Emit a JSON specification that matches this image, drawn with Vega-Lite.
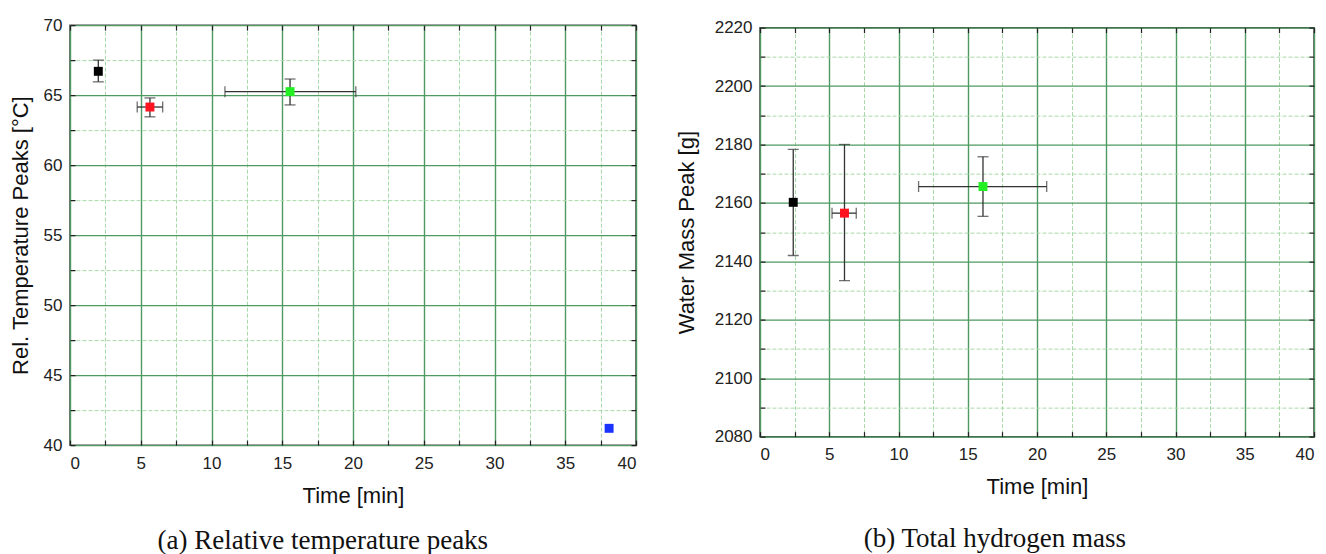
{
  "$schema": "https://vega.github.io/schema/vega-lite/v6.json",
  "background": "white",
  "padding": {"left": 8, "top": 12, "right": 5, "bottom": 0},
  "config": {
    "view": {"stroke": "#444", "strokeWidth": 1.5},
    "font": "Liberation Sans",
    "axis": {
      "domain": false,
      "labelFont": "Liberation Sans", "labelFontSize": 17, "labelColor": "#222",
      "titleFont": "Liberation Sans", "titleFontSize": 22, "titleFontWeight": "normal", "titleColor": "#111",
      "tickColor": "#222", "tickSize": -5, "tickWidth": 1.2, "labelPadding": 13
    },
    "title": {"font": "Liberation Serif", "fontSize": 27, "fontWeight": "normal", "color": "#111", "orient": "bottom", "frame": "bounds"}
  },
  "datasets": {
    "temp": [
      {"series": "run 1", "t": 2.0, "v": 66.7, "vlo": 65.95, "vhi": 67.5, "tlo": null, "thi": null},
      {"series": "run 2", "t": 5.65, "v": 64.15, "vlo": 63.45, "vhi": 64.8, "tlo": 4.75, "thi": 6.55},
      {"series": "run 3", "t": 15.55, "v": 65.25, "vlo": 64.3, "vhi": 66.15, "tlo": 10.95, "thi": 20.2},
      {"series": "run 4", "t": 38.1, "v": 41.2, "vlo": null, "vhi": null, "tlo": null, "thi": null}
    ],
    "mass": [
      {"series": "run 1", "t": 2.4, "v": 2160.2, "vlo": 2142.0, "vhi": 2178.3, "tlo": null, "thi": null},
      {"series": "run 2", "t": 6.1, "v": 2156.5, "vlo": 2133.4, "vhi": 2180.0, "tlo": 5.2, "thi": 6.95},
      {"series": "run 3", "t": 16.1, "v": 2165.6, "vlo": 2155.4, "vhi": 2175.8, "tlo": 11.45, "thi": 20.7}
    ]
  },
  "spacing": 36,
  "center": true,
  "hconcat": [
    {
      "width": 566, "height": 420,
      "title": {"text": "(a)  Relative temperature peaks", "offset": 22},
      "data": {"name": "temp"},
      "layer": [
        {
          "transform": [{"filter": "datum.vlo != null"}],
          "mark": {"type": "errorbar", "ticks": {"size": 11}, "color": "#333", "thickness": 1.3},
          "encoding": {
            "x": {"field": "t", "type": "quantitative", "scale": {"domain": [0, 40], "nice": false},
              "axis": {"orient": "bottom", "title": "Time [min]", "values": [0,2.5,5,7.5,10,12.5,15,17.5,20,22.5,25,27.5,30,32.5,35,37.5,40],
                "labelExpr": "datum.value % 5 == 0 ? datum.label : ''", "grid": true, "labelPadding": 15,
                "gridColor": {"condition": {"test": "datum.value % 5 != 0", "value": "#a8d8a8"}, "value": "#4f9a60"},
                "gridDash": {"condition": {"test": "datum.value % 5 != 0", "value": [4, 2]}, "value": []},
                "gridWidth": {"condition": {"test": "datum.value % 5 != 0", "value": 1}, "value": 1.4},
                "titlePadding": 14}},
            "y": {"field": "vlo", "type": "quantitative", "scale": {"domain": [40, 70], "nice": false},
              "axis": {"orient": "left", "title": "Rel. Temperature Peaks [°C]", "values": [40,42.5,45,47.5,50,52.5,55,57.5,60,62.5,65,67.5,70],
                "labelExpr": "datum.value % 5 == 0 ? datum.label : ''", "grid": true,
                "gridColor": {"condition": {"test": "datum.value % 5 != 0", "value": "#a8d8a8"}, "value": "#4f9a60"},
                "gridDash": {"condition": {"test": "datum.value % 5 != 0", "value": [4, 2]}, "value": []},
                "gridWidth": {"condition": {"test": "datum.value % 5 != 0", "value": 1}, "value": 1.4},
                "titlePadding": 11}},
            "y2": {"field": "vhi"}
          }
        },
        {
          "transform": [{"filter": "datum.tlo != null"}],
          "mark": {"type": "errorbar", "ticks": {"size": 11}, "color": "#333", "thickness": 1.3},
          "encoding": {
            "x": {"field": "tlo", "type": "quantitative",
              "axis": {"orient": "top", "title": null, "labels": false, "grid": false, "values": [0,2.5,5,7.5,10,12.5,15,17.5,20,22.5,25,27.5,30,32.5,35,37.5,40]}},
            "x2": {"field": "thi"},
            "y": {"field": "v", "type": "quantitative",
              "axis": {"orient": "right", "title": null, "labels": false, "grid": false, "values": [40,42.5,45,47.5,50,52.5,55,57.5,60,62.5,65,67.5,70]}}
          }
        },
        {
          "mark": {"type": "square", "size": 80, "opacity": 1},
          "encoding": {
            "x": {"field": "t", "type": "quantitative", "axis": null},
            "y": {"field": "v", "type": "quantitative", "axis": null},
            "color": {"field": "series", "type": "nominal", "legend": null,
              "scale": {"domain": ["run 1", "run 2", "run 3", "run 4"], "range": ["#000000", "#ff1420", "#22f022", "#1a33ff"]}}
          }
        }
      ],
      "resolve": {"axis": {"x": "independent", "y": "independent"}}
    },
    {
      "width": 554, "height": 409,
      "title": {"text": "(b)  Total hydrogen mass", "offset": 28},
      "data": {"name": "mass"},
      "layer": [
        {
          "transform": [{"filter": "datum.vlo != null"}],
          "mark": {"type": "errorbar", "ticks": {"size": 11}, "color": "#333", "thickness": 1.3},
          "encoding": {
            "x": {"field": "t", "type": "quantitative", "scale": {"domain": [0, 40], "nice": false},
              "axis": {"orient": "bottom", "title": "Time [min]", "values": [0,2.5,5,7.5,10,12.5,15,17.5,20,22.5,25,27.5,30,32.5,35,37.5,40],
                "labelExpr": "datum.value % 5 == 0 ? datum.label : ''", "grid": true, "labelPadding": 15,
                "gridColor": {"condition": {"test": "datum.value % 5 != 0", "value": "#a8d8a8"}, "value": "#4f9a60"},
                "gridDash": {"condition": {"test": "datum.value % 5 != 0", "value": [4, 2]}, "value": []},
                "gridWidth": {"condition": {"test": "datum.value % 5 != 0", "value": 1}, "value": 1.4},
                "titlePadding": 14}},
            "y": {"field": "vlo", "type": "quantitative", "scale": {"domain": [2080, 2220], "nice": false, "zero": false},
              "axis": {"orient": "left", "title": "Water Mass Peak [g]", "format": "d", "values": [2080,2090,2100,2110,2120,2130,2140,2150,2160,2170,2180,2190,2200,2210,2220],
                "labelExpr": "datum.value % 20 == 0 ? datum.label : ''", "grid": true,
                "gridColor": {"condition": {"test": "datum.value % 20 != 0", "value": "#a8d8a8"}, "value": "#4f9a60"},
                "gridDash": {"condition": {"test": "datum.value % 20 != 0", "value": [4, 2]}, "value": []},
                "gridWidth": {"condition": {"test": "datum.value % 20 != 0", "value": 1}, "value": 1.4},
                "titlePadding": 16}},
            "y2": {"field": "vhi"}
          }
        },
        {
          "transform": [{"filter": "datum.tlo != null"}],
          "mark": {"type": "errorbar", "ticks": {"size": 11}, "color": "#333", "thickness": 1.3},
          "encoding": {
            "x": {"field": "tlo", "type": "quantitative",
              "axis": {"orient": "top", "title": "x", "titleFontSize": 10, "titleOpacity": 0, "titlePadding": 4, "labels": false, "grid": false, "values": [0,2.5,5,7.5,10,12.5,15,17.5,20,22.5,25,27.5,30,32.5,35,37.5,40]}},
            "x2": {"field": "thi"},
            "y": {"field": "v", "type": "quantitative",
              "axis": {"orient": "right", "title": null, "labels": false, "grid": false, "values": [2080,2090,2100,2110,2120,2130,2140,2150,2160,2170,2180,2190,2200,2210,2220]}}
          }
        },
        {
          "mark": {"type": "square", "size": 80, "opacity": 1},
          "encoding": {
            "x": {"field": "t", "type": "quantitative", "axis": null},
            "y": {"field": "v", "type": "quantitative", "axis": null},
            "color": {"field": "series", "type": "nominal", "legend": null,
              "scale": {"domain": ["run 1", "run 2", "run 3", "run 4"], "range": ["#000000", "#ff1420", "#22f022", "#1a33ff"]}}
          }
        }
      ],
      "resolve": {"axis": {"x": "independent", "y": "independent"}}
    }
  ]
}
